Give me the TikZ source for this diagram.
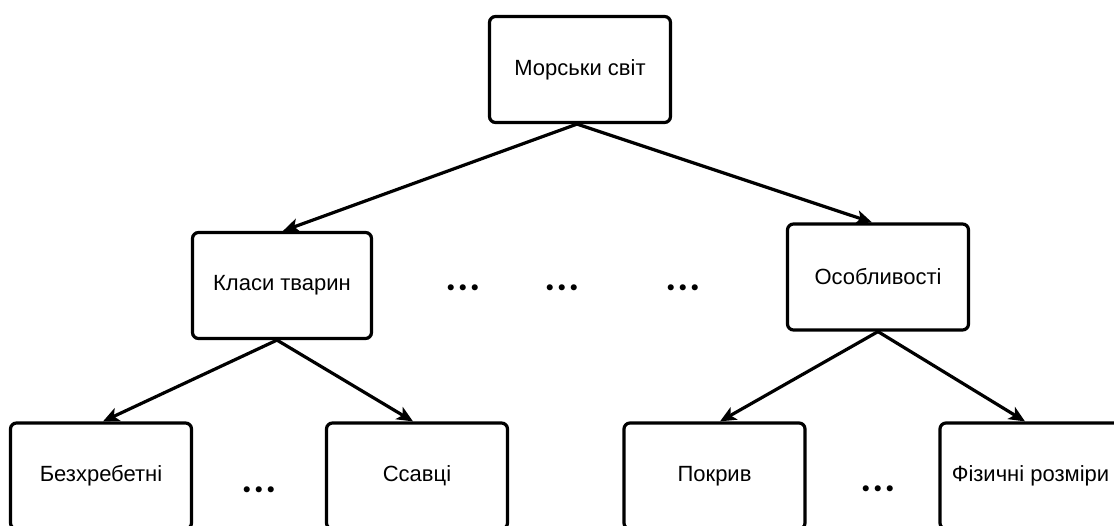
\documentclass[tikz,border=0pt]{standalone}
\usepackage{fontspec}
\setmainfont{Liberation Sans}
\newfontfamily\dotfont{Lato}
\usetikzlibrary{arrows.meta}
\begin{document}
\begin{tikzpicture}[x=1pt,y=-1pt,
  box/.style={draw, line width=3.2pt, rounded corners=6pt, fill=white,
    minimum width=181pt, minimum height=106pt, inner sep=0pt,
    font=\fontsize{22}{26}\selectfont},
  link/.style={line width=3.2pt, -{Stealth[length=16pt,width=14pt,inset=4pt]}},
  dots/.style={font=\dotfont\fontsize{40}{40}\selectfont\bfseries, inner sep=0pt}]
\useasboundingbox (0,0) rectangle (1114,526);

% level 0
\node[box] (root) at (580,69.5) {Морськи світ};

% level 1
\node[box, minimum width=179pt] (kl) at (282,285.5) {Класи тварин};
\node[box] (os) at (878,277) {Особливості};

% level 2
\node[box] (bez) at (101,476) {Безхребетні};
\node[box] (ssa) at (417,476) {Ссавці};
\node[box] (pok) at (714.5,476) {Покрив};
\node[box] (fiz) at (1030.5,476) {Фізичні розміри};

% omitted siblings
\node[dots] (d1) at (463,288) {.\kern2.5pt.\kern2.5pt.};
\node[dots] (d2) at (562,288) {.\kern2.5pt.\kern2.5pt.};
\node[dots] (d3) at (683,288) {.\kern2.5pt.\kern2.5pt.};
\node[dots] (d4) at (259,490) {.\kern2.5pt.\kern2.5pt.};
\node[dots] (d5) at (878,489) {.\kern2.5pt.\kern2.5pt.};

% connectors
\draw[link] ([xshift=-3pt]root.south) -- ([xshift=1pt]kl.north);
\draw[link] ([xshift=-3pt]root.south) -- ([xshift=-6pt]os.north);
\draw[link] ([xshift=-5pt]kl.south) -- ([xshift=2pt]bez.north);
\draw[link] ([xshift=-5pt]kl.south) -- ([xshift=-4pt]ssa.north);
\draw[link] (os.south) -- ([xshift=5.5pt]pok.north);
\draw[link] (os.south) -- ([xshift=-5.5pt]fiz.north);
\end{tikzpicture}
\end{document}
